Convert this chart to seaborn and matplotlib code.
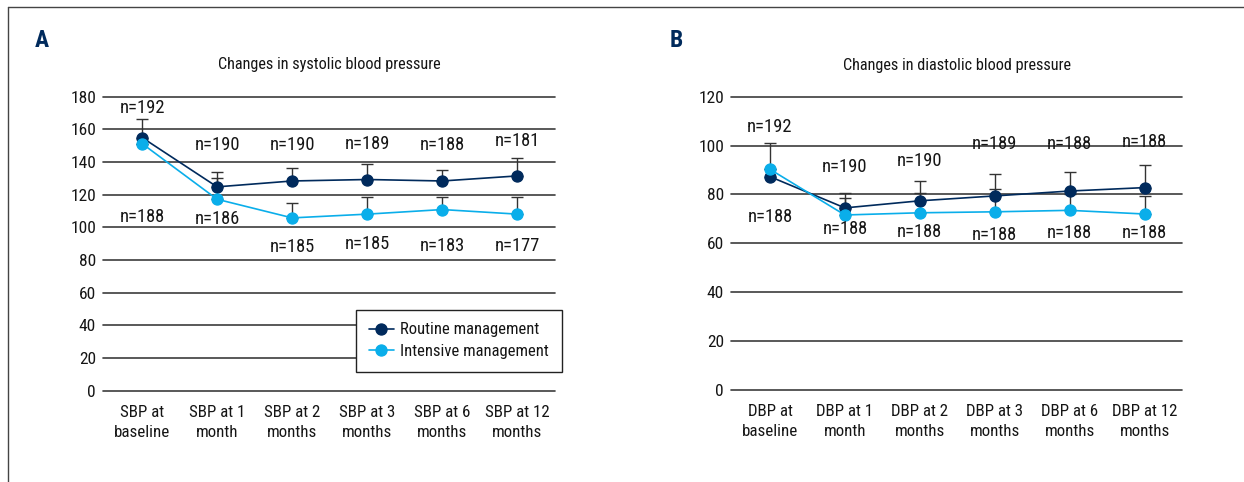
"""
Blood pressure changes by visit, routine vs intensive management
(panel A = systolic, panel B = diastolic)
"""

import pandas as pd
import numpy as np
import matplotlib
matplotlib.use("Agg")
import matplotlib.pyplot as plt
from matplotlib.lines import Line2D
import seaborn as sns


# =============================================================================
# DATA
# =============================================================================
groups = ["Routine management", "Intensive management"]

sbp_visits = ["SBP at\nbaseline", "SBP at 1\nmonth", "SBP at 2\nmonths",
              "SBP at 3\nmonths", "SBP at 6\nmonths", "SBP at 12\nmonths"]
sbp_routine = [155.0, 124.8, 128.4, 129.3, 128.4, 131.5]
sbp_routine_upper = [166.2, 134.0, 136.4, 138.5, 135.0, 142.5]
sbp_intensive = [151.3, 117.2, 105.8, 108.1, 110.9, 108.1]
sbp_intensive_upper = [151.3, 130.0, 115.0, 118.7, 118.7, 118.3]
sbp_n_routine = [192, 190, 190, 189, 188, 181]
sbp_n_intensive = [188, 186, 185, 185, 183, 177]
sbp_n_routine_y = [172.9, 150.3, 150.3, 151.3, 150.7, 152.7]
sbp_n_intensive_y = [106.4, 105.4, 88.1, 89.7, 88.5, 88.7]
sbp_ticks = [0, 20, 40, 60, 80, 100, 120, 140, 160, 180]

dbp_visits = ["DBP at\nbaseline", "DBP at 1\nmonth", "DBP at 2\nmonths",
              "DBP at 3\nmonths", "DBP at 6\nmonths", "DBP at 12\nmonths"]
dbp_routine = [87.3, 74.5, 77.4, 79.4, 81.4, 82.8]
dbp_routine_upper = [101.0, 80.7, 85.4, 88.2, 89.0, 92.0]
dbp_intensive = [90.3, 71.6, 72.5, 72.9, 73.5, 72.0]
dbp_intensive_upper = [90.3, 78.4, 80.5, 82.4, 80.0, 79.3]
dbp_n_routine = [192, 190, 190, 189, 188, 188]
dbp_n_intensive = [188, 188, 188, 188, 188, 188]
dbp_n_routine_y = [107.7, 91.1, 93.8, 100.5, 100.5, 101.6]
dbp_n_intensive_y = [70.9, 65.9, 64.8, 63.4, 64.1, 64.1]
dbp_ticks = [0, 20, 40, 60, 80, 100, 120]

NAVY = "#002a5c"
CYAN = "#0aaeea"
GRID = "#3c3c3c"
TEXT = "#151515"
palette = {groups[0]: NAVY, groups[1]: CYAN}
FONTS = ["Roboto Condensed", "Liberation Sans Narrow", "Roboto", "DejaVu Sans"]


# =============================================================================
# PLOTTING
# =============================================================================
def draw_panel(ax, visits, routine, routine_up, intensive, intensive_up,
               n_r, n_r_y, n_i, n_i_y, ticks, title, legend=False):
    df = pd.DataFrame({
        "visit": visits * 2,
        "value": routine + intensive,
        "group": [groups[0]] * len(visits) + [groups[1]] * len(visits),
    })

    x = np.arange(len(visits))
    # upper-only error bars, drawn under the markers
    for mean, upper in [(routine, routine_up), (intensive, intensive_up)]:
        mean = np.array(mean)
        err = np.array(upper) - mean
        ax.errorbar(x, mean, yerr=[np.zeros_like(err), err], fmt="none",
                    ecolor="#333333", elinewidth=1.0, capsize=4, capthick=1.0, zorder=2)

    sns.pointplot(data=df, x="visit", y="value", hue="group", order=visits,
                  hue_order=groups, palette=palette, markers="o", errorbar=None,
                  markersize=8, linewidth=1.2, ax=ax, zorder=3)

    for i in range(len(visits)):
        ax.text(i, n_r_y[i], f"n={n_r[i]}", ha="center", va="center",
                fontsize=13.3, color=TEXT)
        ax.text(i, n_i_y[i], f"n={n_i[i]}", ha="center", va="center",
                fontsize=13.3, color=TEXT)

    ax.set_ylim(ticks[0], ticks[-1])
    ax.set_xlim(-0.52, len(visits) - 0.5)
    ax.set_yticks(ticks)
    ax.set_xlabel("")
    ax.set_ylabel("")
    ax.grid(axis="y", color=GRID, linewidth=1.2)
    ax.grid(axis="x", visible=False)
    for line in ax.get_ygridlines():
        line.set_clip_on(False)
    ax.set_axisbelow(True)
    sns.despine(ax=ax, left=True, bottom=True)
    ax.tick_params(axis="both", length=0, labelsize=12.5, colors=TEXT)
    ax.tick_params(axis="y", pad=5)
    ax.tick_params(axis="x", pad=10, labelsize=12.2)
    for lab in ax.get_xticklabels():
        lab.set_linespacing(1.45)
    ax.text(0.5, 1.108, title, transform=ax.transAxes, ha="center", va="center",
            fontsize=11.7, color=TEXT)

    if legend:
        ax.legend(loc="lower left", bbox_to_anchor=(0.56, 0.065), frameon=True,
                  fancybox=False, framealpha=1, edgecolor="#222222", fontsize=12,
                  handlelength=1.5, handletextpad=0.4, borderpad=0.75,
                  labelspacing=0.4, borderaxespad=0, labelcolor=TEXT)
        ax.get_legend().get_frame().set_linewidth(1.0)
    else:
        ax.get_legend().remove()


sns.set_theme(style="white")
plt.rcParams["font.family"] = FONTS

fig = plt.figure(figsize=(12.44, 4.82), dpi=100)
ax_a = fig.add_axes([0.0828, 0.1894, 0.3633, 0.61])
ax_b = fig.add_axes([0.5876, 0.1909, 0.3626, 0.6085])

draw_panel(ax_a, sbp_visits, sbp_routine, sbp_routine_upper, sbp_intensive,
           sbp_intensive_upper, sbp_n_routine, sbp_n_routine_y, sbp_n_intensive,
           sbp_n_intensive_y, sbp_ticks, "Changes in systolic blood pressure", legend=True)
draw_panel(ax_b, dbp_visits, dbp_routine, dbp_routine_upper, dbp_intensive,
           dbp_intensive_upper, dbp_n_routine, dbp_n_routine_y, dbp_n_intensive,
           dbp_n_intensive_y, dbp_ticks, "Changes in diastolic blood pressure")

# panel letters
fig.text(0.0338, 0.917, "A", ha="center", va="center", fontsize=17,
         fontweight="bold", color=NAVY)
fig.text(0.5434, 0.917, "B", ha="center", va="center", fontsize=17,
         fontweight="bold", color=NAVY)

# figure frame (left and top edges)
fig.add_artist(Line2D([8 / 1244, 8 / 1244], [0, 1 - 7 / 482], color="#444444", linewidth=1.0))
fig.add_artist(Line2D([8 / 1244, 1], [1 - 7 / 482, 1 - 7 / 482], color="#444444", linewidth=1.0))

fig.savefig("out.png", dpi=100)
plt.close(fig)
